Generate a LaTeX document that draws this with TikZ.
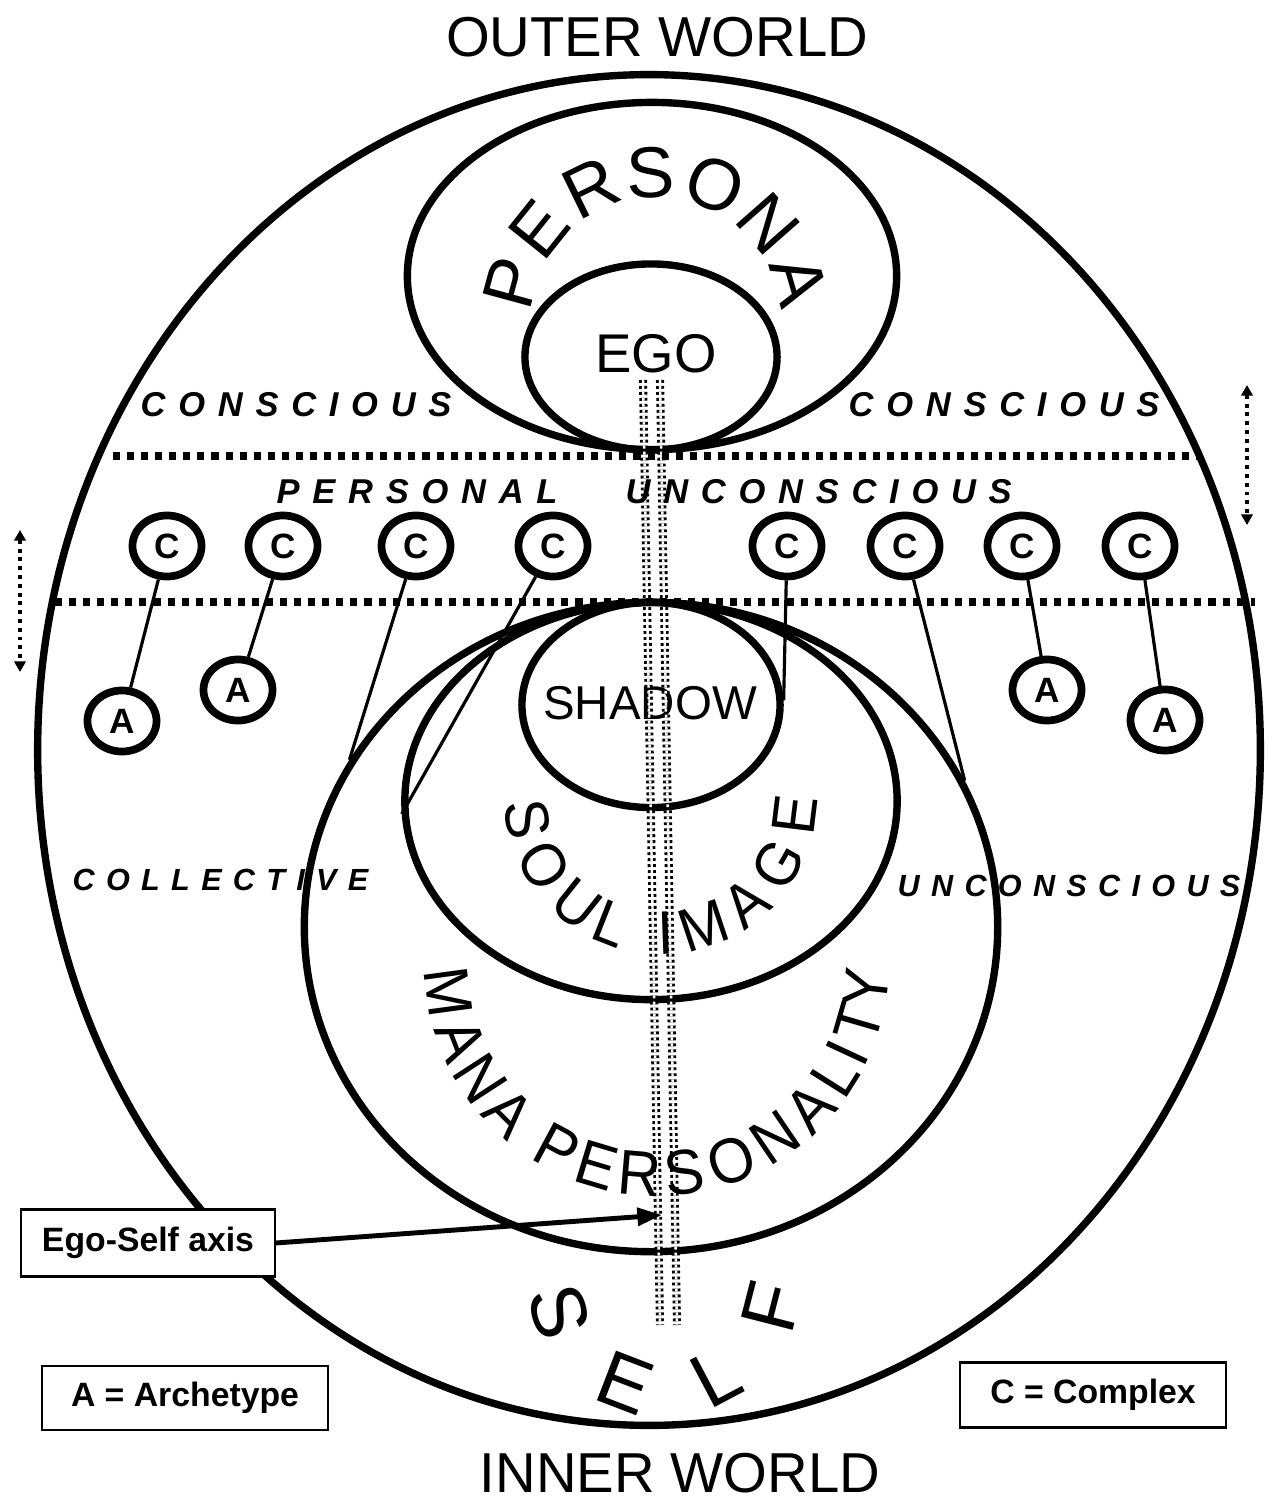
\documentclass[tikz,border=0pt]{standalone}
\usepackage{fontspec}
\setmainfont{Liberation Sans}
\newfontfamily\bandfont[LetterSpace=37]{Liberation Sans}
\newfontfamily\arcfont[FakeStretch=0.94]{Liberation Sans}
\usetikzlibrary{arrows.meta, calc, shapes.geometric}

\begin{document}
\begin{tikzpicture}[
    x=0.01cm, y=-0.01cm,
    >={Triangle[length=7pt, width=5pt]},
    every node/.style={inner sep=0pt},
    ring/.style    ={draw, ellipse, line width=2.1pt},
    unit/.style    ={draw, ellipse, line width=2.2pt, minimum width=6.9mm,
                     minimum height=6.1mm, font=\bfseries\fontsize{10}{12}\selectfont},
    link/.style    ={line width=0.9pt},
    band/.style    ={line width=2.2pt, dash pattern=on 2pt off 2pt},
    drift/.style   ={{Triangle[length=3pt, width=3.2pt]}-{Triangle[length=3pt, width=3.2pt]},
                     line width=1.1pt, dash pattern=on 1.1pt off 1.4pt},
    zone/.style    ={anchor=west, font=\bandfont\bfseries\itshape\fontsize{9.8}{11}\selectfont},
    deep/.style    ={anchor=west, font=\bandfont\bfseries\itshape\fontsize{8.7}{10}\selectfont},
    world/.style   ={font=\fontsize{16}{19}\selectfont},
    keybox/.style  ={draw, fill=white, line width=0.6pt, font=\bfseries\fontsize{9.6}{11}\selectfont},
    axisline/.style={dash pattern=on 0.8pt off 0.9pt, line width=0.8pt, double distance=0.7pt},
]
\useasboundingbox (0,0) rectangle (1275,1503);

% the self and the nested images
\node[ring, minimum width=12.22cm, minimum height=13.5cm] (self) at (649,750) {};
\node[ring, minimum width=4.89cm, minimum height=3.47cm] (persona) at (652,276) {};
\node[ring, minimum width=2.52cm, minimum height=1.86cm] (ego) at (651,357) {};
\node[ring, minimum width=6.93cm, minimum height=6.49cm] (mana) at (651,927) {};
\node[ring, minimum width=4.92cm, minimum height=3.97cm] (soul) at (651,801) {};
\node[ring, minimum width=2.58cm, minimum height=2.05cm] (shadow) at (651,705) {};
\node[font=\fontsize{15.5}{18}\selectfont] (egotxt) at (656,354) {EGO};
\node[font=\fontsize{13.5}{16}\selectfont] (shadowtxt) at (650,703) {SHADOW};

% ego-self axis
\coordinate (axtopL) at (643,380);
\coordinate (axbotL) at (660,1325);
\coordinate (axtopR) at (660,380);
\coordinate (axbotR) at (677,1325);
\draw[axisline] (axtopL) -- (axbotL);
\draw[axisline] (axtopR) -- (axbotR);

% layer borders
\draw[band] (113,456) -- (1200,456);
\draw[band] (55,602) -- (1255,602);
\draw[drift] (1247,385) -- (1247,525);
\draw[drift] (20,530) -- (20,672);

% layer names
\node[world] (outer) at (657,37) {OUTER WORLD};
\node[world] (inner) at (680,1473) {INNER WORLD};
\node[zone] (con1) at (140,405) {CONSCIOUS};
\node[zone] (con2) at (848,405) {CONSCIOUS};
\node[zone] (pers) at (276,492) {PERSONAL};
\node[zone] (uncon1) at (625,492) {UNCONSCIOUS};
\node[deep] (coll) at (72,880) {COLLECTIVE};
\node[deep] (uncon2) at (897,886) {UNCONSCIOUS};

% lettering on arcs
\foreach \ch/\a [count=\i] in {P/164.8, E/141.3, R/116, S/92.2, O/66.5, N/41.3, A/16.3}
  \node[font=\fontsize{20.5}{24}\selectfont, rotate=\a-90] (pa\i) at ($(656,322)+(\a:1.49cm)$) {\ch};
\foreach \ch/\a [count=\i] in {S/189, O/210, U/231.5, L/248.5, I/272, M/288.5, A/309, G/330.5, E/353}
  \node[font=\arcfont\fontsize{17.5}{21}\selectfont, rotate=\a+90] (si\i) at ($(661,798)+(\a:1.35cm)$) {\ch};
\foreach \ch/\a [count=\i] in {M/187.7, A/201.3, N/213, A/225.3, P/241.7, E/253.3, R/265.2, S/277.5,
                               O/290.7, N/304.2, A/316.8, L/327.8, I/335, T/343.8, Y/353.4}
  \node[font=\arcfont\fontsize{18}{22}\selectfont, rotate=\a+90] (mp\i) at ($(657,964)+(\a:2.10cm)$) {\ch};
\foreach \ch/\a [count=\i] in {S/196.6, E/249, L/297.9, F/345.6}
  \node[font=\fontsize{22}{26}\selectfont, rotate=\a+90] (sf\i) at ($(665,1280)+(\a:1.1cm)$) {\ch};

% complexes and archetypes
\foreach \x [count=\i] in {167,283,416,553,787,905,1022,1140}
  \node[unit] (c\i) at (\x,546) {C};
\node[unit] (a1) at (122,721) {A};
\node[unit] (a2) at (238,690) {A};
\node[unit] (a3) at (1047,690) {A};
\node[unit] (a4) at (1165,720) {A};
\draw[link] (c1) -- (a1);
\draw[link] (c2) -- (a2);
\draw[link] (c7) -- (a3);
\draw[link] (c8) -- (a4);
\draw[link] (c3) -- (mana.151);
\draw[link] (c4) -- (soul.183);
\draw[link] (c5) -- (shadow.2);
\draw[link] (c6) -- (mana.25);

% keys
\node[keybox, minimum width=2.53cm, minimum height=0.67cm] (axisbox) at (148,1243) {Ego-Self axis};
\coordinate (axistip) at (662,1215);
\draw[->, line width=1.4pt] (axisbox.east) -- (axistip);
\node[keybox, minimum width=2.86cm, minimum height=0.64cm] (akey) at (185,1398) {A = Archetype};
\node[keybox, minimum width=2.66cm, minimum height=0.65cm] (ckey) at (1093,1395) {C = Complex};
\end{tikzpicture}
\end{document}
